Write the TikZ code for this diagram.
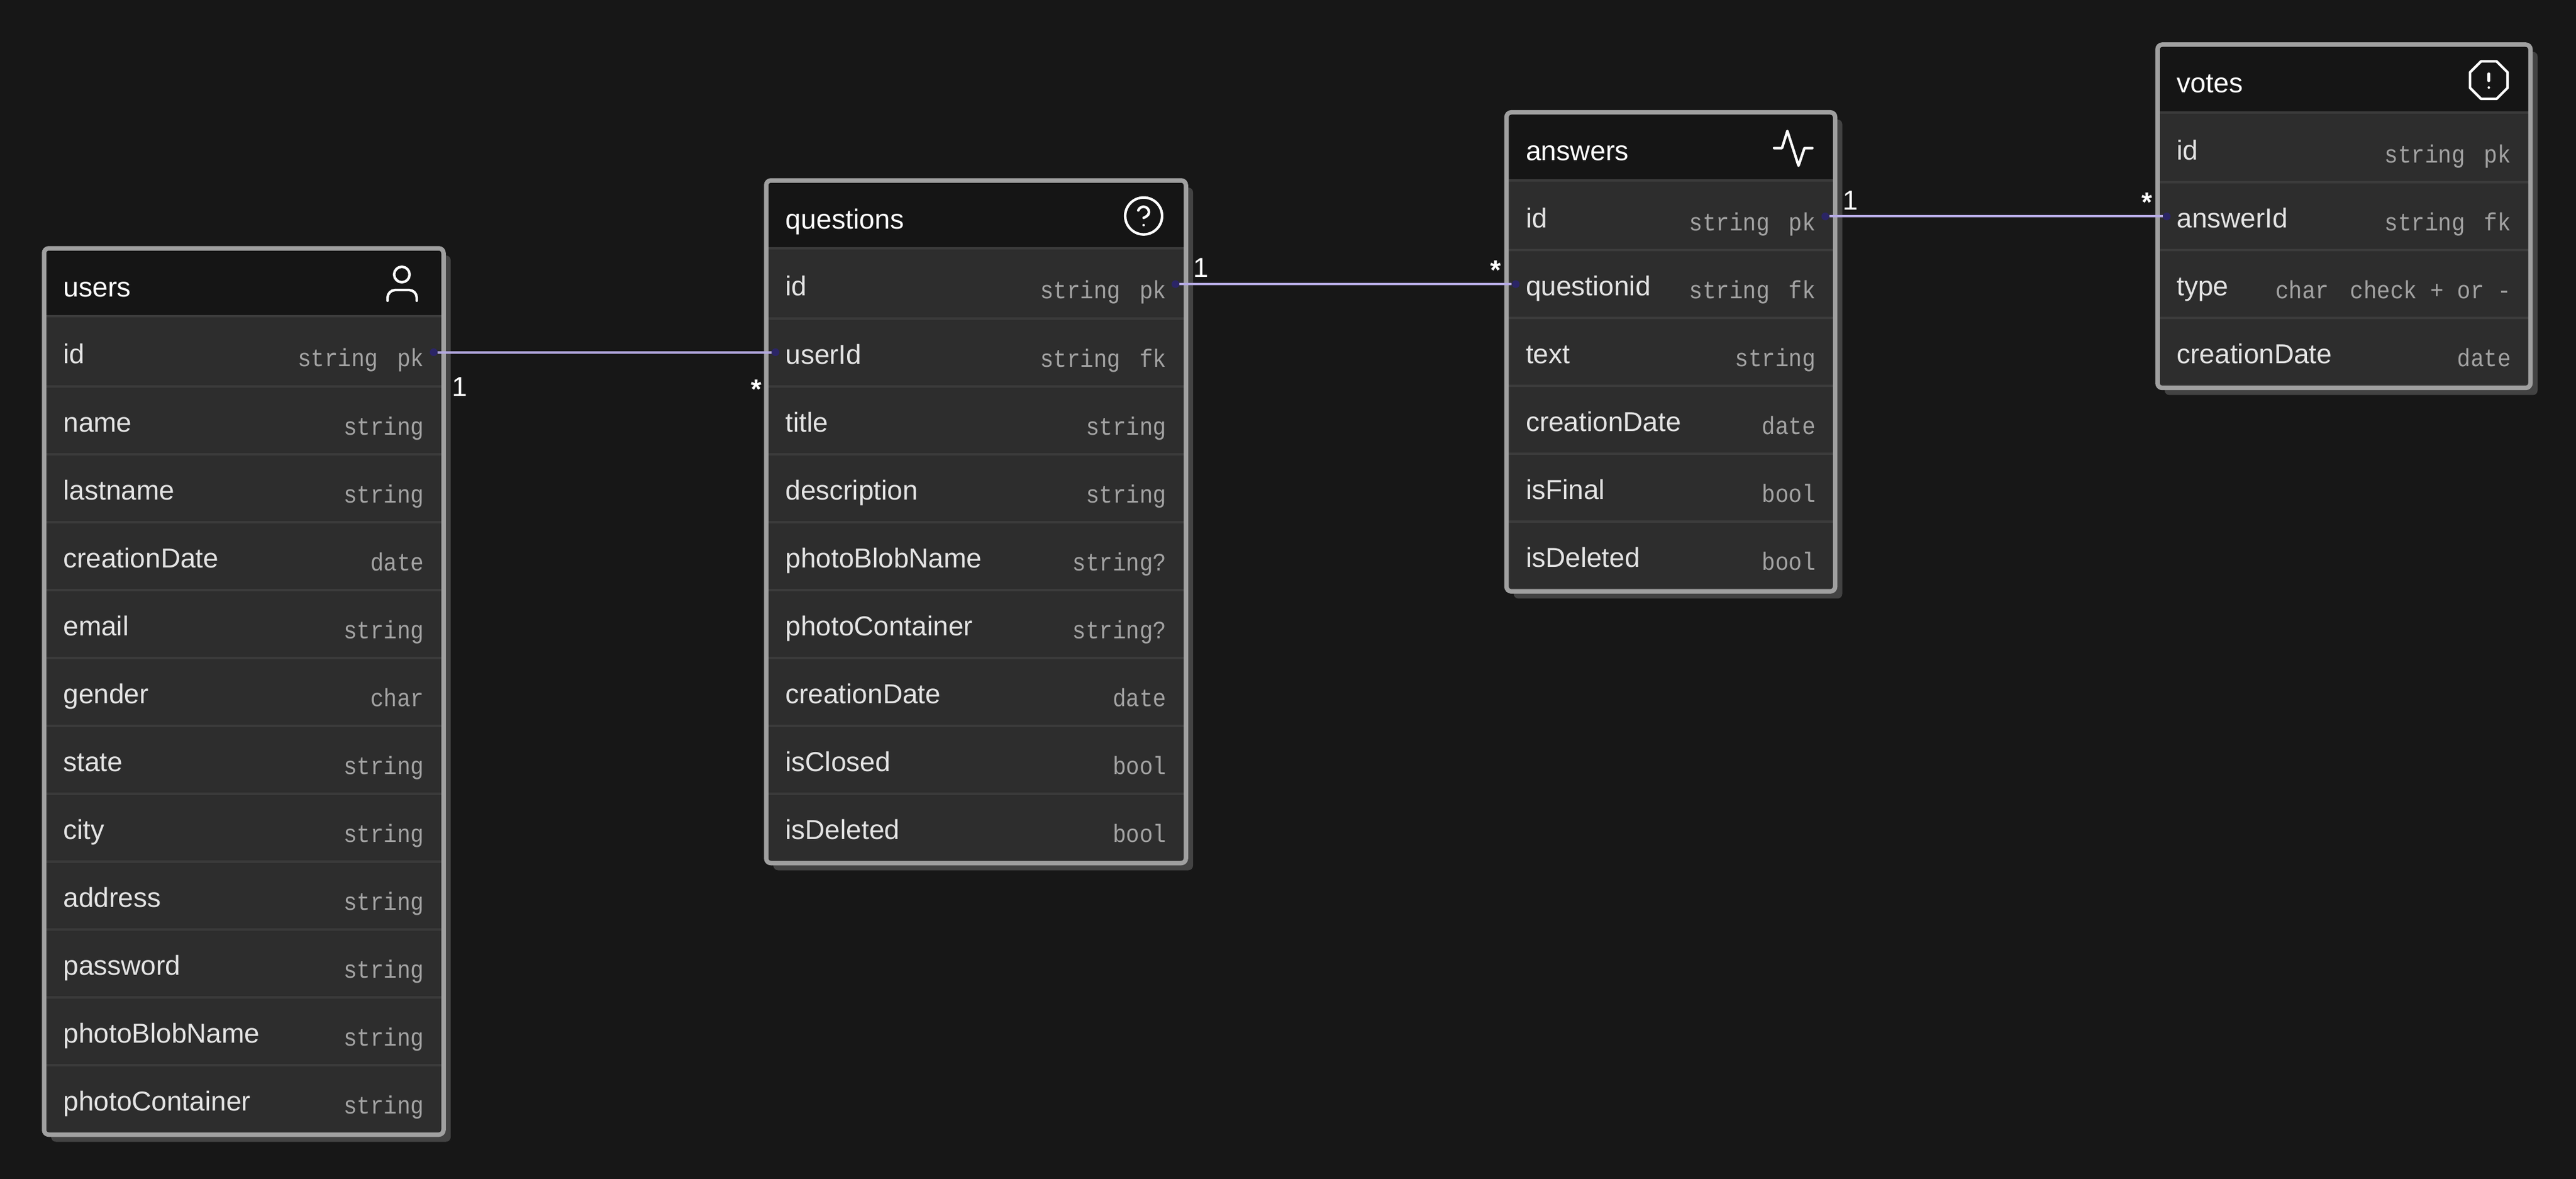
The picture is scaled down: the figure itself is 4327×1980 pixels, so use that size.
\documentclass[tikz,border=0pt]{standalone}
\usepackage{fontspec}
\usetikzlibrary{positioning,shadows}
\setmainfont{Liberation Sans}
\newfontfamily\typefont[FakeStretch=0.895]{Liberation Mono}
\definecolor{bgdark}{HTML}{171717}
\definecolor{headdark}{HTML}{151515}
\definecolor{rowgray}{HTML}{2D2D2D}
\definecolor{sepgray}{HTML}{3B3B3B}
\definecolor{framegray}{HTML}{A0A0A0}
\definecolor{shadowgray}{HTML}{434343}
\definecolor{labelgray}{HTML}{E4E4E4}
\definecolor{typegray}{HTML}{A3A3A3}
\definecolor{rellilac}{HTML}{B3A8E0}
\definecolor{portblue}{HTML}{2B2566}
\newcommand{\attr}[2]{#1\hskip 0pt plus 1filll\raisebox{-5pt}{\color{typegray}\typefont\fontsize{42}{50}\selectfont #2}}
\newcommand{\keygap}{\hspace{32pt}}
\newcommand{\monogap}{\hspace{22.5pt}}
\begin{document}
\begin{tikzpicture}[x=1pt,y=-1pt]
  \tikzstyle{entity} = [draw=none, fill=headdark, rounded corners=8pt, outer sep=0pt, general shadow={shadow xshift=12pt, shadow yshift=-12pt, fill=shadowgray}]
  \tikzstyle{head} = [outer sep=0pt, inner xsep=31pt, inner ysep=0pt, minimum height=114pt, text height=52pt, text depth=4pt, text=white, font=\fontsize{46.5}{55}\selectfont]
  \tikzstyle{row} = [draw=sepgray, line width=4pt, fill=rowgray, outer sep=0pt, inner xsep=31pt, inner ysep=0pt, minimum height=114pt, text height=47.5pt, text depth=8.5pt, text=labelgray, font=\fontsize{46}{55}\selectfont]
  \tikzstyle{firstrow} = [minimum height=117.5pt, text height=48pt, text depth=6.5pt]
  \tikzstyle{frame} = [draw=framegray, line width=7.5pt, rounded corners=8pt]
  \tikzstyle{port} = [circle, fill=portblue, inner sep=0pt, minimum size=13pt]
  \tikzstyle{rel} = [draw=rellilac, line width=4pt]
  \tikzstyle{card} = [text=white, inner sep=0pt, font=\fontsize{46}{55}\selectfont]
  \tikzstyle{icon} = [draw=white, line width=4.3pt, line cap=round, line join=round]
  \tikzstyle{uw} = [text width=606pt]
  \tikzstyle{qw} = [text width=640pt]
  \tikzstyle{aw} = [text width=487pt]
  \tikzstyle{vw} = [text width=561.5pt]

  \path[use as bounding box, fill=bgdark] (0,0) rectangle (4327,1980);

  % users
  \node[entity, minimum width=671pt, minimum height=1488.5pt] (users) at (409.5,1161.25) {};
  \node[head,uw] (uh) [below=0pt of users.north] {users};
  \node[row,uw,firstrow] (u1) [below=0pt of uh] {\attr{id}{string\keygap pk}};
  \node[row,uw] (u2) [below=0pt of u1] {\attr{name}{string}};
  \node[row,uw] (u3) [below=0pt of u2] {\attr{lastname}{string}};
  \node[row,uw] (u4) [below=0pt of u3] {\attr{creationDate}{date}};
  \node[row,uw] (u5) [below=0pt of u4] {\attr{email}{string}};
  \node[row,uw] (u6) [below=0pt of u5] {\attr{gender}{char}};
  \node[row,uw] (u7) [below=0pt of u6] {\attr{state}{string}};
  \node[row,uw] (u8) [below=0pt of u7] {\attr{city}{string}};
  \node[row,uw] (u9) [below=0pt of u8] {\attr{address}{string}};
  \node[row,uw] (u10) [below=0pt of u9] {\attr{password}{string}};
  \node[row,uw] (u11) [below=0pt of u10] {\attr{photoBlobName}{string}};
  \node[row,uw] (u12) [below=0pt of u11] {\attr{photoContainer}{string}};
  \draw[frame] (users.north west) rectangle (users.south east);
  \draw[icon] (675,461) circle (13);
  \draw[icon, rounded corners=13pt] (651,505) -- (651,487) -- (700,487) -- (700,505);

  % questions
  \node[entity, minimum width=705pt, minimum height=1146.5pt] (questions) at (1639.5,876.25) {};
  \node[head,qw] (qh) [below=0pt of questions.north] {questions};
  \node[row,qw,firstrow] (q1) [below=0pt of qh] {\attr{id}{string\keygap pk}};
  \node[row,qw] (q2) [below=0pt of q1] {\attr{userId}{string\keygap fk}};
  \node[row,qw] (q3) [below=0pt of q2] {\attr{title}{string}};
  \node[row,qw] (q4) [below=0pt of q3] {\attr{description}{string}};
  \node[row,qw] (q5) [below=0pt of q4] {\attr{photoBlobName}{string?}};
  \node[row,qw] (q6) [below=0pt of q5] {\attr{photoContainer}{string?}};
  \node[row,qw] (q7) [below=0pt of q6] {\attr{creationDate}{date}};
  \node[row,qw] (q8) [below=0pt of q7] {\attr{isClosed}{bool}};
  \node[row,qw] (q9) [below=0pt of q8] {\attr{isDeleted}{bool}};
  \draw[frame] (questions.north west) rectangle (questions.south east);
  \begin{scope}[shift={(1921,362.7)},x=3.1pt,y=-3.1pt]
    \draw[icon] (0,0) circle (10);
    \draw[icon] (-2.91,-3) .. controls (-2.45,-4.3) and (-1.3,-5) .. (0,-5) .. controls (1.66,-5) and (2.92,-3.66) .. (2.92,-2) .. controls (2.92,0) and (0,1) .. (0,1);
    \draw[icon] (0,5) -- (0.01,5);
  \end{scope}

  % answers
  \node[entity, minimum width=552pt, minimum height=804.5pt] (answers) at (2806.5,590.95) {};
  \node[head,aw] (ah) [below=0pt of answers.north] {answers};
  \node[row,aw,firstrow] (a1) [below=0pt of ah] {\attr{id}{string\keygap pk}};
  \node[row,aw] (a2) [below=0pt of a1] {\attr{questionid}{string\keygap fk}};
  \node[row,aw] (a3) [below=0pt of a2] {\attr{text}{string}};
  \node[row,aw] (a4) [below=0pt of a3] {\attr{creationDate}{date}};
  \node[row,aw] (a5) [below=0pt of a4] {\attr{isFinal}{bool}};
  \node[row,aw] (a6) [below=0pt of a5] {\attr{isDeleted}{bool}};
  \draw[frame] (answers.north west) rectangle (answers.south east);
  \draw[icon] (2980,248.7) -- (2993.3,248.7) -- (3002.3,220) -- (3021,278.3) -- (3031,248.7) -- (3044.3,248.7);

  % votes
  \node[entity, minimum width=626.5pt, minimum height=576.5pt] (votes) at (3937.25,363.2) {};
  \node[head,vw] (vh) [below=0pt of votes.north] {votes};
  \node[row,vw,firstrow] (v1) [below=0pt of vh] {\attr{id}{string\keygap pk}};
  \node[row,vw] (v2) [below=0pt of v1] {\attr{answerId}{string\keygap fk}};
  \node[row,vw] (v3) [below=0pt of v2] {\attr{type}{char\hspace{35pt}check\monogap +\monogap or\monogap -}};
  \node[row,vw] (v4) [below=0pt of v3] {\attr{creationDate}{date}};
  \draw[frame] (votes.north west) rectangle (votes.south east);
  \begin{scope}[shift={(4180.5,134.5)},x=3.15pt,y=-3.15pt]
    \draw[icon] (-4.14,-10) -- (4.14,-10) -- (10,-4.14) -- (10,4.14) -- (4.14,10) -- (-4.14,10) -- (-10,4.14) -- (-10,-4.14) -- cycle;
    \draw[icon] (0,-3.4) -- (0,0.4);
    \draw[icon] (0,4) -- (0.01,4);
  \end{scope}

  % connectors
  \node[port, xshift=-15pt, yshift=-1.75pt] (pu) at (u1.east) {};
  \node[port, xshift=14pt] (pq) at (q2.west) {};
  \node[port, xshift=-16pt, yshift=-1.45pt] (pq1) at (q1.east) {};
  \node[port, xshift=14pt] (pa) at (a2.west) {};
  \node[port, xshift=-15pt, yshift=-2pt] (pa1) at (a1.east) {};
  \node[port, xshift=14pt] (pv) at (v2.west) {};
  \draw[rel] (pu) -- (pq);
  \draw[rel] (pq1) -- (pa);
  \draw[rel] (pa1) -- (pv);
  \node[card] (c1) at (772,650) {1};
  \node[card, anchor=base] (s1) at (1270,669) {\bfseries *};
  \node[card] (c2) at (2017,450) {1};
  \node[card, anchor=base] (s2) at (2512,469) {\bfseries *};
  \node[card] (c3) at (3108,337) {1};
  \node[card, anchor=base] (s3) at (3606,355) {\bfseries *};
\end{tikzpicture}
\end{document}
